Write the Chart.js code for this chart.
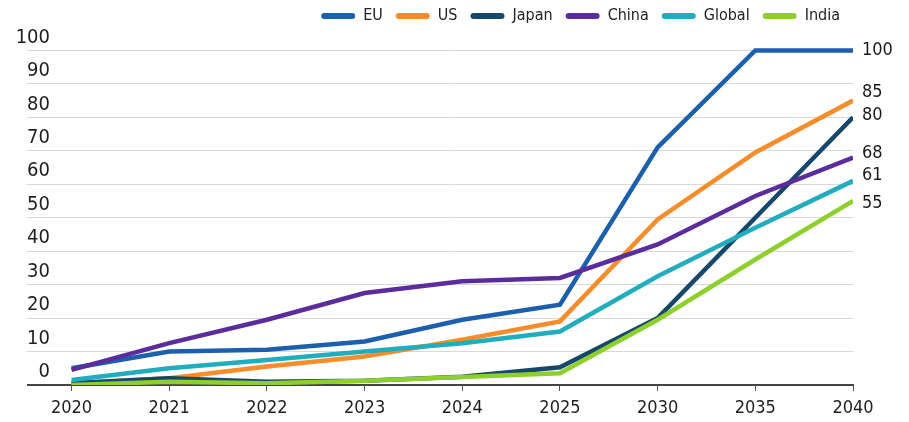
<!DOCTYPE html>
<html lang="en">
<head>
  <meta charset="UTF-8" />
  <title>Region lines</title>
  <script src="https://cdn.jsdelivr.net/npm/chart.js"></script>
  <style>
    body { margin: 0; background: #fff; }
    .chart-box { width: 909px; height: 422px; }
  </style>
</head>
<body>

<div class="chart-box"><canvas id="regionLines"></canvas></div>

<script>
  // data
  const years  = ['2020', '2021', '2022', '2023', '2024', '2025', '2030', '2035', '2040'];
  const eu     = [5, 10, 10.5, 13, 19.5, 24, 71, 100, 100];
  const us     = [0.5, 2, 5.5, 8.5, 13.5, 19, 49.5, 69.5, 85];
  const japan  = [0.5, 2, 1, 1.3, 2.5, 5.3, 20, 50, 80];
  const china  = [4.5, 12.5, 19.5, 27.5, 31, 32, 42, 56.5, 68];
  const global = [1.5, 5, 7.5, 10, 12.5, 16, 32.5, 47, 61];
  const india  = [0, 1, 0.5, 1.3, 2.4, 3.5, 19.5, 37.5, 55];
  const names  = ['EU', 'US', 'Japan', 'China', 'Global', 'India'];
  const yTicks = [0, 10, 20, 30, 40, 50, 60, 70, 80, 90, 100];

  const colors = ['#1b5fae', '#f68d2a', '#17476a', '#5a2c9c', '#21adbd', '#8ecf2d'];
  const FONT = "'Liberation Sans Narrow', 'DejaVu Sans Condensed', Roboto, sans-serif";

  // little vertical nudges so the end labels don't sit on each other
  const endNudge = [0, -8, -2, -4, -6, 2];

  const endLabels = {
    id: 'endLabels',
    afterDatasetsDraw(chart) {
      const ctx = chart.ctx;
      ctx.save();
      ctx.font = '18px ' + FONT;
      ctx.fillStyle = '#1a1a1a';
      ctx.textBaseline = 'middle';
      ctx.textAlign = 'left';
      chart.data.datasets.forEach((ds, i) => {
        const pts = chart.getDatasetMeta(i).data;
        const last = pts[pts.length - 1];
        ctx.fillText(ds.data[ds.data.length - 1].y, last.x + 9, last.y + endNudge[i]);
      });
      ctx.restore();
    }
  };

  const series = [eu, us, japan, china, global, india];

  new Chart(document.getElementById('regionLines'), {
    type: 'line',
    data: {
      datasets: series.map((vals, i) => ({
        label: names[i],
        data: vals.map((v, j) => ({ x: j, y: v })),
        borderColor: colors[i],
        backgroundColor: colors[i],
        borderWidth: 4.5,
        pointRadius: 0,
        tension: 0,
        order: series.length - i   // India drawn last, on top
      }))
    },
    options: {
      responsive: true,
      maintainAspectRatio: false,
      animation: false,
      layout: { padding: { top: -5, right: 56, left: 0, bottom: 0 } },
      plugins: {
        tooltip: { enabled: false },
        legend: {
          position: 'top',
          align: 'end',
          labels: {
            boxWidth: 34,
            boxHeight: 6,
            useBorderRadius: true,
            borderRadius: 3,
            padding: 13,
            color: '#222',
            font: { family: FONT, size: 16 },
            sort: (a, b) => a.datasetIndex - b.datasetIndex,
            generateLabels: chart =>
              Chart.defaults.plugins.legend.labels.generateLabels(chart).map(l => ({ ...l, lineWidth: 0 }))
          }
        }
      },
      scales: {
        x: {
          type: 'linear',
          min: -0.2,
          max: 8,
          border: { color: '#444', width: 2 },
          grid: { drawOnChartArea: false, color: '#555', tickLength: 6 },
          afterBuildTicks: axis => { axis.ticks = years.map((_, i) => ({ value: i })); },
          afterFit: axis => { axis.height = 37; },
          ticks: {
            autoSkip: false,
            maxRotation: 0,
            padding: 7,
            color: '#1f1f1f',
            font: { family: FONT, size: 18 },
            callback: v => years[v]
          }
        },
        y: {
          min: 0,
          max: 104.9,   // a little headroom above the 100 line, no tick there
          border: { display: false },
          grid: {
            color: c => (c.tick && c.tick.value === 0 ? '#444' : '#d9d9d9'),
            lineWidth: c => (c.tick && c.tick.value === 0 ? 2 : 1),
            tickLength: 25
          },
          afterBuildTicks: axis => { axis.ticks = yTicks.map(v => ({ value: v })); },
          afterFit: axis => { axis.width = 52; },
          ticks: {
            padding: -23,
            labelOffset: -13,
            color: '#1f1f1f',
            font: { family: FONT, size: 20 }
          }
        }
      }
    },
    plugins: [endLabels]
  });
</script>

</body>
</html>
